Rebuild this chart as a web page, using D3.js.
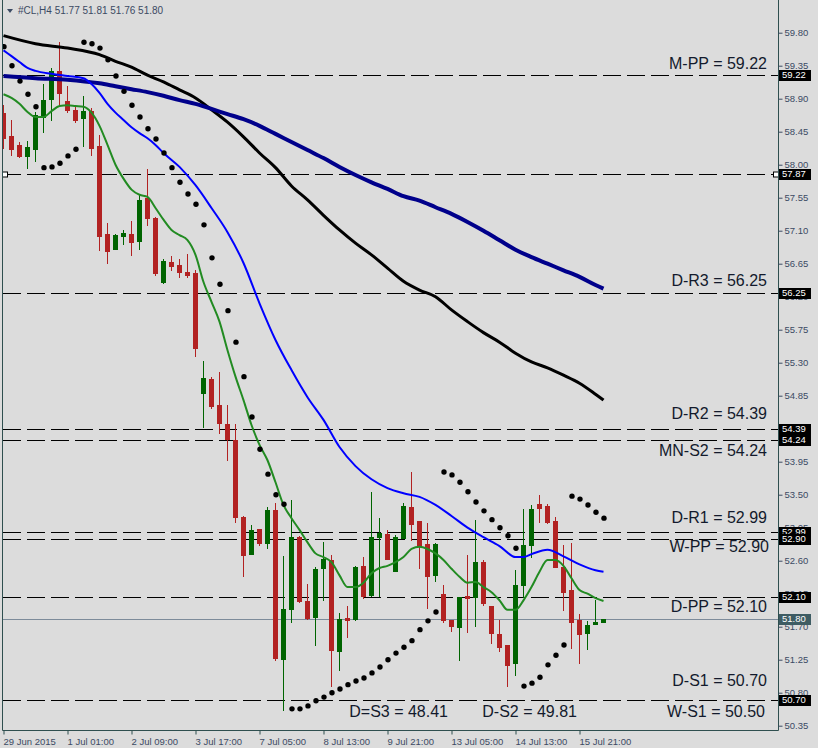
<!DOCTYPE html>
<html>
<head>
<meta charset="utf-8">
<script src="https://cdn.jsdelivr.net/npm/d3@7"></script>
<style>
  body { margin: 0; background: #dcdcdc; }
  svg { display: block; }
  text { font-family: "Liberation Sans", Arial, sans-serif; }
</style>
</head>
<body>
<div id="chart"></div>
<script>
// #CL H4 bars, 29 Jun - 16 Jul 2015 (bar index 0..75)
const opens = [58.70,58.39,58.27,58.12,58.21,58.65,58.90,59.28,58.87,58.75,58.64,58.73,58.26,57.06,56.85,57.03,57.06,56.96,57.55,57.27,
  56.40,56.67,56.63,56.54,56.52,54.89,55.08,54.72,54.46,54.25,53.20,52.69,53.03,52.84,53.29,51.26,51.94,52.92,52.05,51.83,
  52.50,52.61,51.37,51.82,51.81,52.53,52.13,52.92,52.96,52.46,52.91,53.33,53.14,52.83,52.41,52.15,51.79,51.70,52.12,52.10,
  52.58,51.98,51.60,51.45,51.21,52.27,52.81,53.37,53.35,53.14,52.51,52.20,51.79,51.61,51.74,51.77];
const highs = [58.81,58.61,58.31,58.32,58.72,59.10,59.32,59.67,59.07,58.80,58.94,58.77,58.41,57.21,57.06,57.11,57.23,57.59,57.94,57.29,
  56.71,56.75,56.71,56.78,56.56,55.32,55.11,55.17,54.72,54.46,53.21,53.09,53.03,53.33,53.39,52.66,53.43,52.94,52.28,52.51,
  52.85,52.68,51.89,51.98,52.53,52.65,53.54,53.18,53.02,52.95,53.39,53.81,53.14,53.11,52.84,52.27,51.79,52.10,52.68,53.15,
  52.61,51.98,51.79,51.45,52.47,53.30,53.36,53.50,53.37,53.20,52.81,52.84,51.87,51.78,52.06,51.81];
const lows = [58.23,58.13,58.10,57.96,58.05,58.45,58.61,58.81,58.72,58.58,58.25,58.13,56.84,56.66,56.85,56.92,56.77,56.85,57.18,56.50,
  56.39,56.56,56.47,56.47,55.39,54.42,54.68,54.34,53.97,53.13,52.39,52.69,52.81,52.77,51.25,50.57,51.76,52.04,51.80,51.45,
  52.06,50.89,51.11,51.56,51.79,52.09,52.12,52.12,52.62,52.46,52.91,52.88,52.50,51.96,52.32,51.76,51.64,51.25,51.63,51.71,
  51.99,51.48,51.37,50.89,51.04,52.10,52.65,53.13,53.11,52.51,51.93,51.41,51.20,51.40,51.74,51.76];
const closes = [58.36,58.21,58.12,58.24,58.68,58.88,59.28,58.98,58.75,58.61,58.73,58.23,57.03,56.82,57.04,57.07,56.95,57.52,57.27,56.52,
  56.69,56.62,56.54,56.50,55.50,55.09,54.71,54.48,54.26,53.20,52.68,53.02,52.84,53.29,51.27,51.94,52.92,52.05,51.82,52.49,
  52.62,51.38,51.81,51.79,52.51,52.12,52.92,52.98,52.62,52.92,53.35,53.10,52.80,52.39,52.83,51.79,51.71,52.10,52.09,52.58,
  52.02,51.61,51.42,51.18,52.27,52.81,53.30,53.32,53.13,52.51,52.17,51.76,51.60,51.72,51.76,51.80];

// moving averages, read at the listed bars
const maSlowBars = [0,4,8,12,14,16,18,20,22,24,26,28,30,32,34,36,38,40,42,44,46,48,50,52,54,56,58,60,62,64,66,68,70,72,74,75];
const maBlack = [59.76,59.65,59.59,59.50,59.41,59.33,59.22,59.13,59.02,58.91,58.75,58.58,58.38,58.16,57.96,57.71,57.52,57.31,57.11,56.93,
  56.77,56.59,56.41,56.29,56.20,56.02,55.86,55.71,55.58,55.43,55.31,55.23,55.13,55.02,54.87,54.79];
const maNavy = [59.21,59.18,59.16,59.11,59.07,59.03,58.99,58.94,58.88,58.83,58.76,58.69,58.62,58.53,58.42,58.31,58.20,58.09,57.97,57.86,
  57.76,57.67,57.57,57.51,57.42,57.33,57.22,57.10,56.97,56.84,56.74,56.65,56.56,56.47,56.36,56.31];
const maBlueBars = [0,1,2,3,4,6,8,10,11,12,13,14,15,16,17,18,19,20,22,24,26,28,30,32,34,36,38,40,42,44,46,48,50,52,54,56,58,60,62,64,65,66,68,70,72,74,75];
const maBlue = [59.56,59.48,59.40,59.32,59.28,59.24,59.21,59.18,59.10,58.98,58.83,58.71,58.61,58.51,58.43,58.36,58.27,58.16,57.97,57.72,
  57.41,57.08,56.66,56.11,55.61,55.20,54.83,54.52,54.15,53.89,53.71,53.59,53.52,53.47,53.36,53.21,53.05,52.92,52.80,52.65,
  52.65,52.69,52.75,52.66,52.55,52.47,52.45];
const maGreen = [58.96,58.91,58.83,58.72,58.65,58.65,58.73,58.80,58.81,58.80,58.79,58.71,58.53,58.27,58.00,57.81,57.66,57.59,57.56,57.41,
  57.25,57.11,57.04,56.97,56.77,56.40,56.13,55.86,55.47,55.11,54.79,54.45,54.18,53.97,53.67,53.36,53.18,53.02,52.85,52.70,
  52.65,52.58,52.40,52.24,52.24,52.30,52.43,52.50,52.53,52.58,52.65,52.76,52.79,52.76,52.70,52.61,52.49,52.38,52.30,52.31,
  52.24,52.17,52.06,51.93,51.93,52.06,52.24,52.45,52.61,52.61,52.53,52.36,52.20,52.15,52.09,52.05];

// parabolic SAR, one per bar
const sar = [59.61,59.35,59.14,58.96,58.79,57.96,57.97,58.02,58.12,58.21,59.67,59.65,59.59,59.43,59.21,59.00,58.81,58.65,58.49,58.35,
  58.16,57.96,57.76,57.60,57.46,57.18,56.73,56.37,56.01,55.58,55.11,54.56,54.12,53.78,53.50,53.37,50.58,50.58,50.62,50.69,
  50.74,50.80,50.85,50.91,50.96,51.00,51.07,51.15,51.25,51.34,51.42,51.51,51.66,51.78,51.90,53.81,53.77,53.67,53.54,53.40,
  53.28,53.16,53.05,52.94,52.77,50.89,50.93,51.01,51.18,51.31,51.45,53.48,53.44,53.36,53.26,53.18];

// horizontal levels drawn on the chart
const levelValues = [59.22,57.87,56.25,54.39,54.24,52.99,52.90,52.10,50.70];
const pivotNames = ["M-PP","D-R3","D-R2","MN-S2","D-R1","W-PP","D-PP","D-S1","W-S1","D-S2","D=S3"];
const pivotValues = [59.22,56.25,54.39,54.24,52.99,52.90,52.10,50.70,50.50,49.81,48.41];
const pivotLabelEnd = [767,767,767,767,767,769,767,767,765,577,448];
const pivotLabelDy = [-6,-7,-10,16,-9,13,15,-14,2,0,0];

const priceTicks = [59.80,59.35,58.90,58.45,58.00,57.55,57.10,56.65,56.20,55.75,55.30,54.85,54.40,53.95,53.50,53.05,52.60,52.15,51.70,51.25,50.80,50.35];
const timeTickBars = [0,8,16,24,32,40,48,56,64,72];
const timeTickLabels = ["29 Jun 2015","1 Jul 01:00","2 Jul 09:00","3 Jul 17:00","7 Jul 05:00","8 Jul 13:00","9 Jul 21:00","13 Jul 05:00","14 Jul 13:00","15 Jul 21:00"];

const W = 818, H = 748;
const plot = { left: 2.5, right: 778.5, bottom: 730.5 };
const axisColor = "#2f4f4f";
const textColor = "#3b4a63";

const svg = d3.select("#chart").append("svg")
  .attr("width", W).attr("height", H)
  .style("background", "#dcdcdc");

const x = d3.scaleLinear().domain([0, 75]).range([3.5, 603.5]);
const y = d3.scaleLinear().domain([50.35, 59.80]).range([725.7, 32.7]);
const py = v => Math.round(y(v));

svg.append("clipPath").attr("id", "plotClip")
  .append("rect").attr("x", 3).attr("y", 0).attr("width", 775).attr("height", 730);

const g = svg.append("g").attr("clip-path", "url(#plotClip)");

// dashed levels
g.selectAll("line.level").data(levelValues).enter().append("line")
  .attr("class", "level")
  .attr("x1", 3).attr("x2", 778)
  .attr("y1", d => py(d) + 0.5).attr("y2", d => py(d) + 0.5)
  .attr("stroke", "#000").attr("stroke-width", 1)
  .attr("stroke-dasharray", "18,6");

// bid line
const lastClose = closes[closes.length - 1];
g.append("line")
  .attr("x1", 3).attr("x2", 778)
  .attr("y1", py(lastClose) + 0.5).attr("y2", py(lastClose) + 0.5)
  .attr("stroke", "#7d8b9a").attr("stroke-width", 1);

// candles
const bars = d3.range(opens.length);
const up = i => closes[i] >= opens[i];
const bull = "#006400", bear = "#b22222";

g.selectAll("line.wick").data(bars).enter().append("line")
  .attr("class", "wick")
  .attr("x1", i => x(i)).attr("x2", i => x(i))
  .attr("y1", i => py(highs[i])).attr("y2", i => py(lows[i]) + 1)
  .attr("stroke", i => up(i) ? bull : bear).attr("stroke-width", 1);

g.selectAll("rect.body").data(bars).enter().append("rect")
  .attr("class", "body")
  .attr("x", i => x(i) - 2.5)
  .attr("width", 5)
  .attr("y", i => py(Math.max(opens[i], closes[i])))
  .attr("height", i => Math.max(2, py(Math.min(opens[i], closes[i])) - py(Math.max(opens[i], closes[i])) + 1))
  .attr("fill", i => up(i) ? bull : bear);

// moving averages
const maLine = (barsIdx, vals, color, width) => {
  const line = d3.line()
    .x((d, i) => x(barsIdx[i]))
    .y(d => y(d))
    .curve(d3.curveMonotoneX);
  g.append("path").datum(vals)
    .attr("d", line)
    .attr("fill", "none")
    .attr("stroke", color)
    .attr("stroke-width", width)
    .attr("stroke-linejoin", "round");
};
maLine(maSlowBars, maBlack, "#000", 3);
maLine(maSlowBars, maNavy, "#00008b", 4);
maLine(maBlueBars, maBlue, "#0000ff", 2);
maLine(bars, maGreen, "#228b22", 2);

// SAR dots
g.selectAll("circle.sar").data(sar).enter().append("circle")
  .attr("class", "sar")
  .attr("cx", (d, i) => x(i) + 0.5)
  .attr("cy", d => y(d))
  .attr("r", 2.7)
  .attr("fill", "#000");

// handles on the selected 57.87 line
[5, 776].forEach(hx => {
  g.append("rect")
    .attr("x", hx - 2.5).attr("y", py(57.87) - 2)
    .attr("width", 5).attr("height", 5)
    .attr("fill", "#fff").attr("stroke", "#000").attr("stroke-width", 1);
});

// pivot labels
pivotNames.forEach((name, i) => {
  const base = Math.min(y(pivotValues[i]) + pivotLabelDy[i], 717);
  svg.append("text")
    .attr("x", pivotLabelEnd[i])
    .attr("y", base)
    .attr("text-anchor", "end")
    .style("font-size", "16px")
    .style("fill", "#131a2c")
    .text(`${name} = ${pivotValues[i].toFixed(2)}`);
});

// frame
svg.append("path")
  .attr("d", `M${plot.left},0V${plot.bottom}H${plot.right}V0`)
  .attr("fill", "none").attr("stroke", axisColor).attr("stroke-width", 1);

// price axis
const yAxis = svg.append("g")
  .attr("transform", `translate(${plot.right},0)`)
  .call(d3.axisRight(y).tickValues(priceTicks).tickSize(4).tickPadding(2).tickFormat(d3.format(".2f")));
yAxis.select(".domain").remove();
yAxis.selectAll("line").attr("stroke", textColor);
yAxis.selectAll("text").attr("fill", textColor).style("font-size", "9.5px").attr("font-family", null);

// time axis
const xAxis = svg.append("g")
  .attr("transform", `translate(0,${plot.bottom})`)
  .call(d3.axisBottom(x).tickValues(timeTickBars).tickSize(4).tickPadding(4)
    .tickFormat((d, i) => timeTickLabels[i]));
xAxis.select(".domain").remove();
xAxis.selectAll("line").attr("stroke", axisColor);
xAxis.selectAll("text").attr("fill", textColor).attr("text-anchor", "start").attr("x", -0.5)
  .style("font-size", "9.5px").attr("font-family", null);

// price tags on the axis
const tags = levelValues.map(v => ({ v, fill: "#000" })).concat([{ v: lastClose, fill: "#3e5c63" }]);
const tagG = svg.selectAll("g.tag").data(tags).enter().append("g")
  .attr("class", "tag")
  .attr("transform", d => `translate(779,${py(d.v)})`);
tagG.append("rect")
  .attr("x", 0).attr("y", -5).attr("width", 32).attr("height", 11)
  .attr("fill", d => d.fill);
tagG.append("text")
  .attr("x", 3).attr("y", 0).attr("dy", "0.35em")
  .style("font-size", "9.5px").style("fill", "#fff")
  .text(d => d.v.toFixed(2));

// header
svg.append("path").attr("d", "M7,9H13L10,13Z").attr("fill", "#3b4a63");
svg.append("text")
  .attr("x", 18).attr("y", 14)
  .style("font-size", "10px").style("fill", textColor)
  .text(`#CL,H4  ${opens[75].toFixed(2)} ${highs[75].toFixed(2)} ${lows[75].toFixed(2)} ${closes[75].toFixed(2)}`);
</script>
</body>
</html>
